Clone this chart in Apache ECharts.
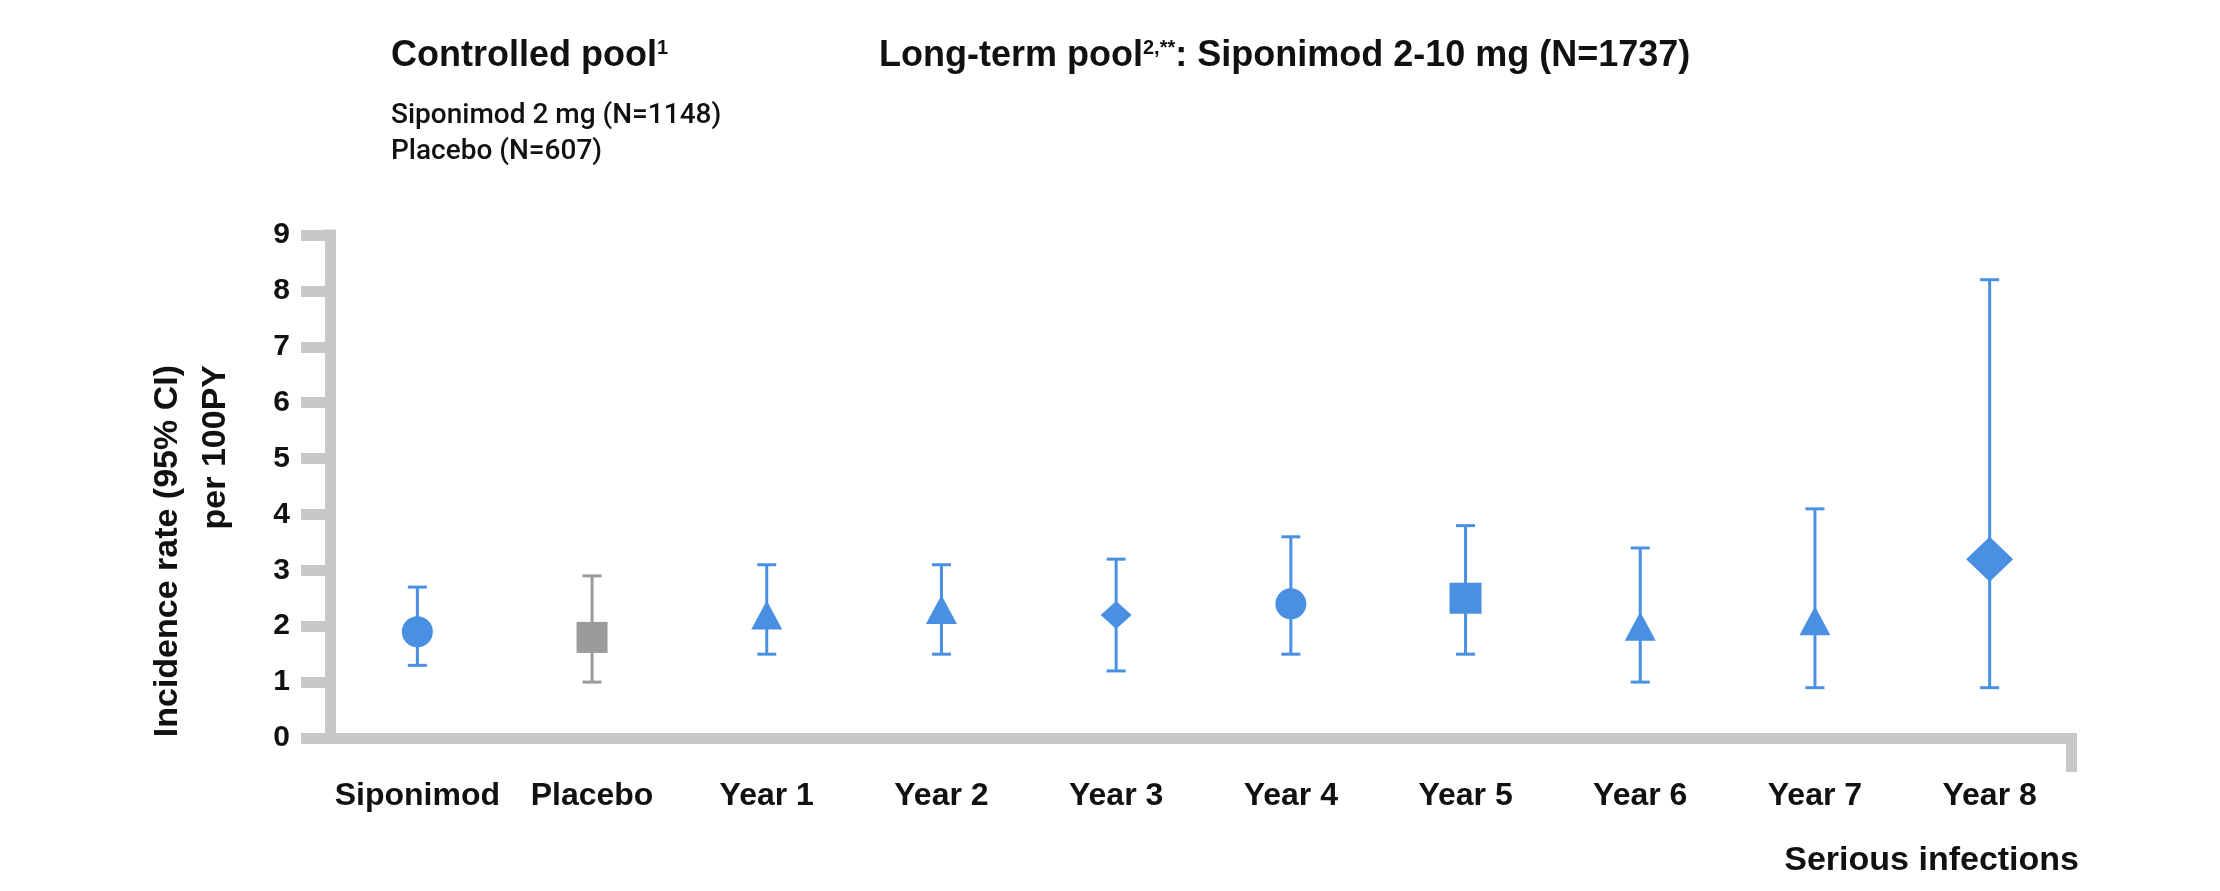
<!DOCTYPE html>
<html>
<head>
<meta charset="utf-8">
<script src="https://cdn.jsdelivr.net/npm/echarts@6/dist/echarts.min.js"></script>
<style>
html,body{margin:0;padding:0;background:#fff;}
#chart{width:2220px;height:891px;}
</style>
</head>
<body>
<div id="chart"></div>
<script>
// ---- data ----
const categories = ['Siponimod', 'Placebo', 'Year 1', 'Year 2', 'Year 3', 'Year 4', 'Year 5', 'Year 6', 'Year 7', 'Year 8'];
const rates   = [1.9, 1.8, 2.2, 2.3, 2.2, 2.4, 2.5, 2.0, 2.1, 3.2];
const ciLower = [1.3, 1.0, 1.5, 1.5, 1.2, 1.5, 1.5, 1.0, 0.9, 0.9];
const ciUpper = [2.7, 2.9, 3.1, 3.1, 3.2, 3.6, 3.8, 3.4, 4.1, 8.2];
const yMin = 0, yMax = 9, yStep = 1;

// ---- styles ----
const BLUE = '#4a90e2', GRAY = '#9b9b9b', AXIS = '#c8c8c8', INK = '#111111';
const markerShapes = ['circle', 'rect', 'triangle', 'triangle', 'diamond', 'circle', 'rect', 'triangle', 'triangle', 'diamond'];
const markerSizes  = [31, 31, [31, 29], [31, 29], [31, 28], 31, [32, 31], [31, 29], [31, 29], [47, 45]];
const markerColors = [BLUE, GRAY, BLUE, BLUE, BLUE, BLUE, BLUE, BLUE, BLUE, BLUE];

const W = 2220, H = 891;
const G = {left: 330, right: 143, top: 235, bottom: 153};
const AXW = 11;

const chart = echarts.init(document.getElementById('chart'), null, {renderer: 'canvas', width: W, height: H});

const errData = categories.map((c, i) => [i, ciLower[i], ciUpper[i]]);
const ptData = categories.map((c, i) => ({
  value: [i, rates[i]],
  symbol: markerShapes[i],
  symbolSize: markerSizes[i],
  itemStyle: {color: markerColors[i], opacity: 1}
}));

const axisRight = W - G.right;
const axisBottom = H - G.bottom;

chart.setOption({
  animation: false,
  backgroundColor: '#fff',
  grid: Object.assign({outerBoundsMode: 'none', containLabel: false}, G),
  xAxis: {
    type: 'category',
    data: categories,
    boundaryGap: true,
    axisLine: {show: true, lineStyle: {color: AXIS, width: AXW, cap: 'butt'}},
    axisTick: {show: false},
    axisLabel: {margin: 42, color: INK, fontFamily: 'Liberation Sans', fontWeight: 'bold', fontSize: 32, interval: 0},
    splitLine: {show: false}
  },
  yAxis: {
    type: 'value',
    min: yMin, max: yMax, interval: yStep,
    axisLine: {show: true, lineStyle: {color: AXIS, width: AXW, cap: 'square'}},
    axisTick: {show: true, length: 29, lineStyle: {color: AXIS, width: AXW}},
    axisLabel: {margin: 40, color: INK, fontFamily: 'Liberation Sans', fontWeight: 'bold', fontSize: 30},
    splitLine: {show: false}
  },
  series: [
    {
      type: 'custom',
      data: errData,
      encode: {x: 0, y: [1, 2]},
      z: 2,
      renderItem: function (params, api) {
        const i = api.value(0);
        const lo = api.coord([i, api.value(1)]);
        const hi = api.coord([i, api.value(2)]);
        const col = markerColors[params.dataIndex];
        const cw = 9.5;
        const st = {stroke: col, lineWidth: 3, fill: null};
        return {
          type: 'group',
          children: [
            {type: 'line', shape: {x1: lo[0], y1: lo[1], x2: hi[0], y2: hi[1]}, style: st},
            {type: 'line', shape: {x1: hi[0] - cw, y1: hi[1], x2: hi[0] + cw, y2: hi[1]}, style: st},
            {type: 'line', shape: {x1: lo[0] - cw, y1: lo[1], x2: lo[0] + cw, y2: lo[1]}, style: st}
          ]
        };
      }
    },
    {
      type: 'scatter',
      data: ptData,
      itemStyle: {opacity: 1},
      z: 3
    }
  ],
  graphic: [
    {
      type: 'rect',
      shape: {x: axisRight - AXW, y: axisBottom, width: AXW, height: 34},
      style: {fill: AXIS}
    },
    {
      type: 'text', x: 391, y: 56,
      style: {
        text: '{t|Controlled pool}{s|1}',
        verticalAlign: 'middle', align: 'left',
        rich: {
          t: {fontFamily: 'Liberation Sans', fontWeight: 'bold', fontSize: 36, lineHeight: 36, fill: INK},
          s: {fontFamily: 'Liberation Sans', fontWeight: 'bold', fontSize: 20, lineHeight: 20, verticalAlign: 'top', fill: INK}
        }
      }
    },
    {
      type: 'text', x: 879, y: 56,
      style: {
        text: '{t|Long-term pool}{s|2,**}{t|: Siponimod 2-10 mg (N=1737)}',
        verticalAlign: 'middle', align: 'left',
        rich: {
          t: {fontFamily: 'Liberation Sans', fontWeight: 'bold', fontSize: 36, lineHeight: 36, fill: INK},
          s: {fontFamily: 'Liberation Sans', fontWeight: 'bold', fontSize: 20, lineHeight: 20, verticalAlign: 'top', fill: INK}
        }
      }
    },
    {
      type: 'text', x: 391, y: 116,
      style: {text: 'Siponimod 2 mg (N=1148)', fontFamily: 'Roboto', fontWeight: 500, fontSize: 28, fill: INK, verticalAlign: 'middle', align: 'left'}
    },
    {
      type: 'text', x: 391, y: 152,
      style: {text: 'Placebo (N=607)', fontFamily: 'Roboto', fontWeight: 500, fontSize: 28, fill: INK, verticalAlign: 'middle', align: 'left'}
    },
    {
      type: 'text', x: 168, y: 365, rotation: Math.PI / 2,
      style: {text: 'Incidence rate (95% CI)', fontFamily: 'Liberation Sans', fontWeight: 'bold', fontSize: 34, fill: INK, verticalAlign: 'middle', align: 'right'}
    },
    {
      type: 'text', x: 216, y: 365, rotation: Math.PI / 2,
      style: {text: 'per 100PY', fontFamily: 'Liberation Sans', fontWeight: 'bold', fontSize: 34, fill: INK, verticalAlign: 'middle', align: 'right'}
    },
    {
      type: 'text', x: 2079, y: 861,
      style: {text: 'Serious infections', fontFamily: 'Liberation Sans', fontWeight: 'bold', fontSize: 34, fill: INK, verticalAlign: 'middle', align: 'right'}
    }
  ]
});
</script>
</body>
</html>
